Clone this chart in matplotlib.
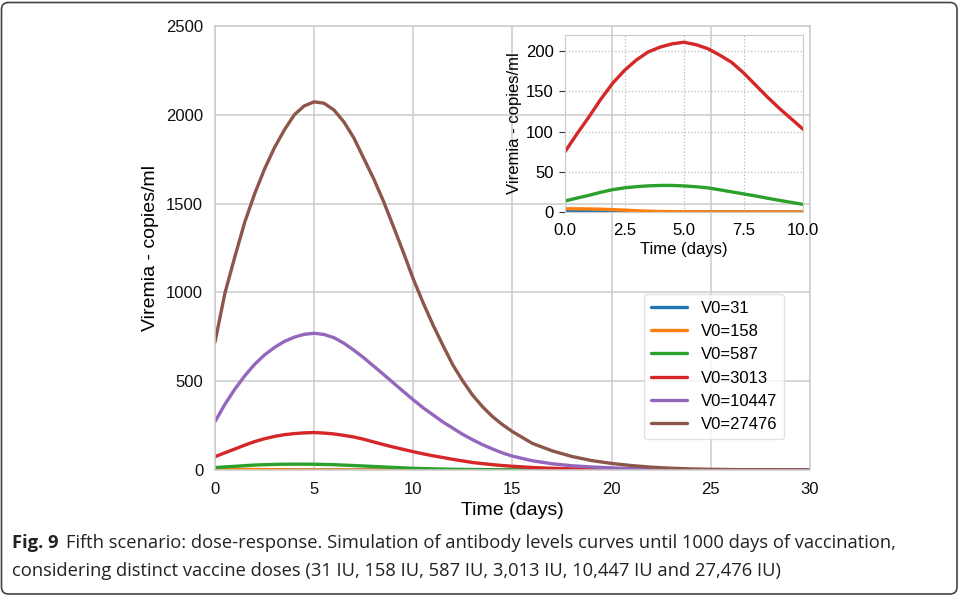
import matplotlib.pyplot as plt
from matplotlib.patches import FancyBboxPatch
from matplotlib.transforms import IdentityTransform

# time grid (days): half-day steps up to day 15, then daily
days = [i / 2 for i in range(31)] + list(range(16, 31))

# simulated viremia (copies/ml) for each initial dose
v0_31 = [0.8, 0.78, 0.75, 0.68, 0.6, 0.5, 0.4, 0.32, 0.25, 0.2, 0.15,
         0.12, 0.1, 0.08, 0.06, 0.05, 0.04, 0.035, 0.03, 0.025, 0.02,
         0.015, 0.01, 0.01, 0.01, 0.01, 0.01, 0, 0, 0, 0,
         0, 0, 0, 0, 0, 0, 0, 0, 0, 0, 0, 0, 0, 0, 0]
v0_158 = [4.0, 4.0, 3.8, 3.5, 3.0, 2.3, 1.6, 1.0, 0.6, 0.4, 0.25,
          0.18, 0.12, 0.09, 0.07, 0.06, 0.05, 0.045, 0.04, 0.035, 0.03,
          0.025, 0.02, 0.02, 0.02, 0.015, 0.01, 0.01, 0.01, 0.01, 0.01,
          0.01, 0, 0, 0, 0, 0, 0, 0, 0, 0, 0, 0, 0, 0, 0]
v0_587 = [13.7, 17.3, 20.7, 24.5, 27.8, 30.0, 31.5, 32.5, 33.0, 33.0, 32.4,
          31.4, 30.0, 27.6, 25.0, 22.5, 20.0, 17.2, 14.5, 12.0, 9.5,
          8.0, 6.5, 5.3, 4.3, 3.5, 2.8, 2.3, 1.8, 1.5, 1.2,
          0.8, 0.5, 0.35, 0.25, 0.15, 0.1, 0.07, 0.05, 0.03, 0.02,
          0.02, 0.01, 0.01, 0.01, 0.0]
v0_3013 = [75, 97, 118, 140, 160, 176, 189, 199, 205, 209, 211,
           208, 203, 195, 186, 173, 158, 143, 129, 116, 103,
           91, 80, 70, 60, 51, 42, 36, 30, 25, 21,
           14, 9.5, 6.5, 4.5, 3.0, 2.0, 1.3, 0.9, 0.6, 0.4,
           0.25, 0.17, 0.11, 0.07, 0.05]
v0_10447 = [272, 370, 455, 530, 595, 648, 690, 724, 748, 764, 770,
            763, 745, 714, 675, 632, 585, 538, 490, 442, 395,
            350, 310, 270, 235, 200, 170, 142, 118, 96, 78,
            52, 35, 24, 17, 12, 8, 5, 3.2, 2, 1.3,
            0.8, 0.5, 0.3, 0.2, 0.1]
v0_27476 = [720, 995, 1200, 1395, 1555, 1695, 1815, 1915, 2000, 2050, 2073,
            2065, 2027, 1960, 1870, 1755, 1640, 1512, 1370, 1225, 1075,
            940, 815, 700, 590, 500, 420, 355, 300, 255, 216,
            150, 108, 76, 53, 37, 25, 16, 10, 6, 4,
            2.5, 1.5, 1.0, 0.6, 0.4]

series = [v0_31, v0_158, v0_587, v0_3013, v0_10447, v0_27476]
labels = ['V0=31', 'V0=158', 'V0=587', 'V0=3013', 'V0=10447', 'V0=27476']
colors = ['#1f77b4', '#ff7f0e', '#2ca02c', '#d62728', '#9467bd', '#8c564b']

plt.rcParams['font.family'] = ['Liberation Sans', 'DejaVu Sans']

fig = plt.figure(figsize=(9.58, 5.96), dpi=100)

# main panel
ax = fig.add_axes([0.2244, 0.2114, 0.6211, 0.745])
for y, lab, c in zip(series, labels, colors):
    ax.plot(days, y, color=c, lw=2.4, label=lab, solid_capstyle='round')
ax.set_xlim(0, 30)
ax.set_ylim(0, 2500)
ax.set_xticks(range(0, 31, 5))
ax.set_yticks(range(0, 2501, 500))
ax.grid(True, color='#cccccc', lw=1.1)
ax.set_axisbelow(True)
for sp in ax.spines.values():
    sp.set_color('#cccccc')
    sp.set_linewidth(1.1)
ax.tick_params(length=0, labelsize=12, pad=8.5, labelcolor='#111111')
ax.set_xlabel('Time (days)', fontsize=14, labelpad=4)
ax.set_ylabel('Viremia - copies/ml', fontsize=14, labelpad=5)
leg = ax.legend(loc='lower left', bbox_to_anchor=(0.721, 0.07), borderaxespad=0,
                fontsize=12, handlelength=2.2, frameon=True, fancybox=True)
leg.get_frame().set_edgecolor('#dddddd')

# inset: first ten days, zoomed on the low doses
ax_in = fig.add_axes([0.5898, 0.6443, 0.2484, 0.297])
ax_in.set_facecolor('none')
for y, c in zip(series, colors):
    ax_in.plot(days, y, color=c, lw=2.4)
ax_in.set_xlim(0, 10)
ax_in.set_ylim(0, 220)
ax_in.set_xticks([0, 2.5, 5, 7.5, 10])
ax_in.set_xticklabels(['0.0', '2.5', '5.0', '7.5', '10.0'])
ax_in.set_yticks([0, 50, 100, 150, 200])
ax_in.grid(True, color='#bbbbbb', lw=0.9, ls=':')
for sp in ax_in.spines.values():
    sp.set_color('#cccccc')
ax_in.tick_params(axis='x', length=0, pad=8, labelsize=12)
ax_in.tick_params(axis='y', length=4, color='#333333', pad=4, labelsize=12)
ax_in.set_xlabel('Time (days)', fontsize=12, labelpad=3)
ax_in.set_ylabel('Viremia - copies/ml', fontsize=12, labelpad=3)

# caption
cap_font = ['Open Sans', 'DejaVu Sans']
W, H = 958, 596
t1 = fig.text(12 / W, 1 - 543 / H, 'Fig. 9', family=cap_font, weight='bold',
              fontsize=13.2, va='center', color='#222222')
renderer = fig.canvas.get_renderer()
bb = t1.get_window_extent(renderer)
fig.text((bb.x1 + 7) / W, 1 - 543 / H,
         'Fifth scenario: dose-response. Simulation of antibody levels curves '
         'until 1000 days of vaccination,',
         family=cap_font, fontsize=13.2, va='center', color='#222222')
fig.text(12 / W, 1 - 571 / H,
         'considering distinct vaccine doses (31 IU, 158 IU, 587 IU, 3,013 IU, '
         '10,447 IU and 27,476 IU)',
         family=cap_font, fontsize=13.2, va='center', color='#222222')

# rounded frame round the whole figure
frame = FancyBboxPatch((1.5, 2.0), 955.5, 591.5,
                       boxstyle='round,pad=0,rounding_size=7',
                       transform=IdentityTransform(), fill=False,
                       ec='#444444', lw=1.2)
fig.add_artist(frame)

fig.savefig('out.png', dpi=100)
